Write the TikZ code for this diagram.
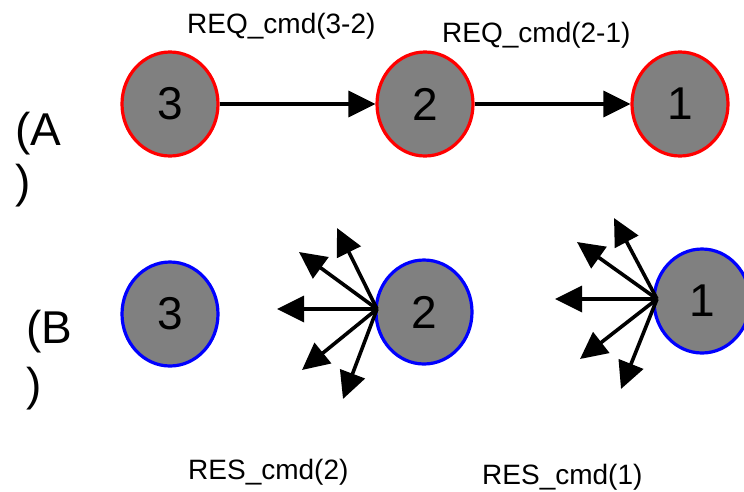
\documentclass[tikz,border=0pt]{standalone}
\usepackage{fontspec}
\setmainfont{Liberation Sans}
\usetikzlibrary{arrows.meta,shapes.geometric}
\definecolor{nodegray}{RGB}{128,128,128}
\tikzset{
  peer/.style={ellipse, draw, fill=nodegray, line width=3.2pt, minimum width=96pt, minimum height=104pt, inner sep=0pt, font=\fontsize{46}{52}\selectfont},
  reqpeer/.style={peer, draw=red},
  respeer/.style={peer, draw=blue},
  arr/.style={line width=3.6pt, -{Triangle[length=27pt,width=26pt]}},
  lbl/.style={anchor=base west, inner sep=0pt, font=\fontsize{28}{34}\selectfont},
  big/.style={anchor=base west, inner sep=0pt, font=\fontsize{46}{52}\selectfont}
}
\begin{document}
\begin{tikzpicture}[x=1pt,y=-1pt]
\useasboundingbox (0,0) rectangle (744,491);
% row A
\node[reqpeer] (A3) at (170,104) {3};
\node[reqpeer] (A2) at (425,104) {2};
\node[reqpeer] (A1) at (680,104) {1};
\draw[arr] (A3.east) -- (A2.west);
\draw[arr] (A2.east) -- (A1.west);
\node[lbl] (l32) at (187,33) {REQ\_cmd(3-2)};
\node[lbl] (l21) at (442,42) {REQ\_cmd(2-1)};
\node[big] (pa1) at (15,145) {(A};
\node[big] (pa2) at (15,197) {)};
% row B
\node[respeer] (B3) at (170,314) {3};
\node[respeer] (B2) at (424,312) {2};
\node[respeer] (B1) at (702,301) {1};
\node[big] (pb1) at (26,343) {(B};
\node[big] (pb2) at (26,400) {)};
\node[lbl] (r2) at (188,479) {RES\_cmd(2)};
\node[lbl] (r1) at (482,484) {RES\_cmd(1)};
% fan from 2
\coordinate (o2) at (377,309);
\coordinate (t21) at (337,228);
\coordinate (t22) at (299,252);
\coordinate (t23) at (277,309);
\coordinate (t24) at (302,370);
\coordinate (t25) at (343,399);
\foreach \t in {t21,t22,t23,t24,t25} \draw[arr] (o2) -- (\t);
% fan from 1
\coordinate (o1) at (657,299);
\coordinate (t11) at (614,218);
\coordinate (t12) at (577,242);
\coordinate (t13) at (555,299);
\coordinate (t14) at (580,359);
\coordinate (t15) at (621,389);
\foreach \t in {t11,t12,t13,t14,t15} \draw[arr] (o1) -- (\t);
\end{tikzpicture}
\end{document}
